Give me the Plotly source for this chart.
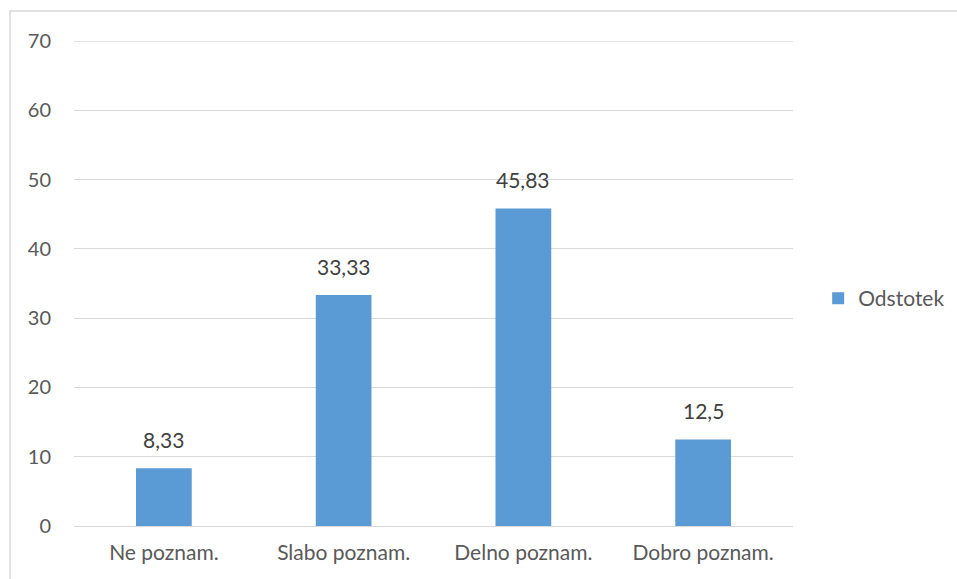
import plotly.graph_objects as go

categories = ["Ne poznam.", "Slabo poznam.", "Delno poznam.", "Dobro poznam."]
values = [8.33, 33.33, 45.83, 12.5]
labels = ["8,33", "33,33", "45,83", "12,5"]
series_name = "Odstotek"

W, H = 957, 579
ml, mr, mt, mb = 74, 164, 41, 53
FONT = "Lato, Open Sans, sans-serif"

fig = go.Figure()
fig.add_trace(go.Bar(
    x=categories, y=values, name=series_name,
    marker=dict(color="#5b9bd5", line=dict(width=0)),
    width=0.31,
    showlegend=True,
))

for c, v, t in zip(categories, values, labels):
    fig.add_annotation(x=c, y=v, text=t, showarrow=False, yanchor="bottom",
                       yshift=14, font=dict(family=FONT, size=21, color="#404040"))

fig.update_layout(
    width=W, height=H,
    margin=dict(l=ml, r=mr, t=mt, b=mb, autoexpand=False),
    paper_bgcolor="white", plot_bgcolor="white",
    font=dict(family=FONT, size=21, color="#595959"),
    xaxis=dict(showgrid=False, showline=True, linecolor="#d9d9d9", linewidth=1,
               ticks="", tickfont=dict(size=21, color="#595959"), ticklabelstandoff=8),
    yaxis=dict(range=[0, 70], tickvals=[0, 10, 20, 30, 40, 50, 60, 70],
               showgrid=True, gridcolor="#d9d9d9", gridwidth=1,
               zeroline=False, showline=False, ticks="",
               tickfont=dict(size=20, color="#595959"), ticklabelstandoff=22),
    legend=dict(x=1.035, xanchor="left", xref="paper", y=0.469, yanchor="middle",
                font=dict(size=21, color="#595959"), itemwidth=30,
                bgcolor="rgba(0,0,0,0)"),
)

# top gridline (at range edge)
fig.add_shape(type="line", xref="paper", yref="y", x0=0, x1=1, y0=70, y1=70,
              line=dict(color="#d9d9d9", width=1.5), layer="below")

# chart-area border
pw, ph = W - ml - mr, H - mt - mb
fig.add_shape(type="rect", xref="paper", yref="paper",
              x0=(10 - ml) / pw, x1=(W + 20 - ml) / pw,
              y0=-(mb + 20) / ph, y1=1 + (mt - 11) / ph,
              line=dict(color="#d9d9d9", width=1.5), fillcolor="rgba(0,0,0,0)", layer="below")

fig.write_html("out.html", config={"displayModeBar": False},
               post_script="document.body.style.margin='0';document.body.style.overflow='hidden';")
